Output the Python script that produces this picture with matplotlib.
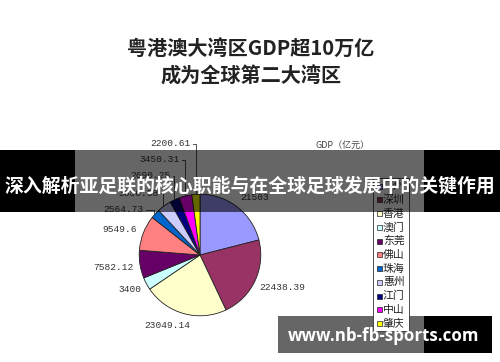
#!/usr/bin/env python3

import matplotlib

matplotlib.use("Agg")

import matplotlib.pyplot as plt
import numpy as np
from matplotlib.patches import Rectangle


OUTPUT_FILENAME = "out.png"

# GDP of the Greater Bay Area cities (100 million yuan), legend order
CITIES = ["广州", "深圳", "香港", "澳门", "东莞", "佛山",
          "珠海", "惠州", "江门", "中山", "肇庆"]
GDP = [21503, 22438.39, 23049.14, 3400, 7582.12, 9549.6,
       2564.73, 3830.58, 2690.25, 3450.31, 2200.61]
GDP_TEXT = ["21503", "22438.39", "23049.14", "3400", "7582.12", "9549.6",
            "2564.73", "3830.58", "2690.25", "3450.31", "2200.61"]
COLORS = ["#9999FF", "#993366", "#FFFFCC", "#CCFFFF", "#660066", "#FF8080",
          "#0066CC", "#CCCCFF", "#000080", "#FF00FF", "#FFFF00"]

TITLE_LINES = ["粤港澳大湾区GDP超10万亿", "成为全球第二大湾区"]
LEGEND_TITLE = "GDP（亿元）"
BANNER_TEXT = "深入解析亚足联的核心职能与在全球足球发展中的关键作用"
WATERMARK = "www.nb-fb-sports.com"

# layout in pixels (figure is 500 x 362)
W, H = 500, 362
CX, CY, R = 200, 255, 62

# label anchor (x, y, ha) and whether a leader line is drawn
LABEL_POS = [
    (240, 198, "left", False),
    (259, 287, "left", False),
    (144, 326, "left", False),
    (141, 289, "right", False),
    (134, 267, "right", False),
    (137, 230, "right", False),
    (144, 210, "right", True),
    (159, 193, "right", True),
    (171, 176, "right", True),
    (180, 160, "right", True),
    (191, 144, "right", True),
]

CJK = ["Noto Sans CJK SC", "DejaVu Sans"]
MONO = ["Liberation Mono", "DejaVu Sans Mono"]


def main() -> int:
    fig = plt.figure(figsize=(W / 100, H / 100), dpi=100)
    fig.patch.set_facecolor("white")

    # pie axes placed so that the circle sits at (CX, CY) radius R
    ax = fig.add_axes([
        (CX - R) / W, (H - CY - R) / H, 2 * R / W, 2 * R / H
    ])
    ax.pie(
        GDP,
        colors=COLORS,
        startangle=90,
        counterclock=False,
        radius=1,
        wedgeprops={"edgecolor": "#222222", "linewidth": 0.6},
    )
    ax.set_xlim(-1.02, 1.02)
    ax.set_ylim(-1.02, 1.02)
    ax.axis("off")

    ov = fig.add_axes([0, 0, 1, 1], zorder=5)
    ov.set_xlim(0, W)
    ov.set_ylim(H, 0)
    ov.axis("off")
    ov.patch.set_visible(False)

    # title
    ov.text(251, 49, TITLE_LINES[0], ha="center", va="center",
            fontsize=14.5, fontweight="bold", family=CJK, color="#222222")
    ov.text(251, 76, TITLE_LINES[1], ha="center", va="center",
            fontsize=14.5, fontweight="bold", family=CJK, color="#222222")

    # value labels with leader lines
    total = float(np.sum(GDP))
    cum = 0.0
    for value, text, (lx, ly, ha, leader) in zip(GDP, GDP_TEXT, LABEL_POS):
        mid = (cum + value / 2) / total * 2 * np.pi
        cum += value
        px = CX + R * np.sin(mid)
        py = CY - R * np.cos(mid)
        ov.text(lx, ly, text, ha=ha, va="center", fontsize=6.8,
                family=MONO, color="#333333")
        if leader:
            ov.plot([lx + 2, px, px], [ly, ly, py],
                    color="#333333", linewidth=0.6)

    # legend
    ov.text(316, 145, LEGEND_TITLE, ha="left", va="center",
            fontsize=6.5, family=CJK, color="#444444")
    step = 13.75
    top = 186
    ov.add_patch(Rectangle((373, top - 8), 36, step * len(CITIES) + 2,
                           facecolor="white", edgecolor="#333333",
                           linewidth=0.6, zorder=8))
    for i, (city, color) in enumerate(zip(CITIES, COLORS)):
        y = top + i * step
        ov.add_patch(Rectangle((376.5, y - 2.5), 5, 5, facecolor=color,
                               edgecolor="#222222", linewidth=0.5,
                               zorder=9))
        ov.text(383, y, city, ha="left", va="center", fontsize=7.8,
                family=CJK, color="#222222", zorder=9)

    # overlay banner
    ov.add_patch(Rectangle((0, 150), W, 62, facecolor="black",
                           alpha=0.6, zorder=10))
    ov.add_patch(Rectangle((0, 150), 75, 62, facecolor="black", zorder=10))
    ov.add_patch(Rectangle((424, 150), W - 424, 62, facecolor="black",
                           zorder=10))
    ov.text(250, 186, BANNER_TEXT, ha="center", va="center",
            fontsize=13.6, fontweight="bold", family=CJK, color="white",
            zorder=11)

    # watermark box
    ov.add_patch(Rectangle((278, 316), 146, 37, facecolor="#666666",
                           zorder=7))
    ov.add_patch(Rectangle((424, 316), 68, 37, facecolor="black",
                           zorder=7))
    ov.text(384, 336, WATERMARK, ha="center", va="center",
            fontsize=12.2, fontweight="bold", family=["Open Sans", "DejaVu Sans"],
            color="white", zorder=11)

    fig.savefig(OUTPUT_FILENAME, dpi=100)
    plt.close(fig)
    return 0


if __name__ == "__main__":
    raise SystemExit(main())
